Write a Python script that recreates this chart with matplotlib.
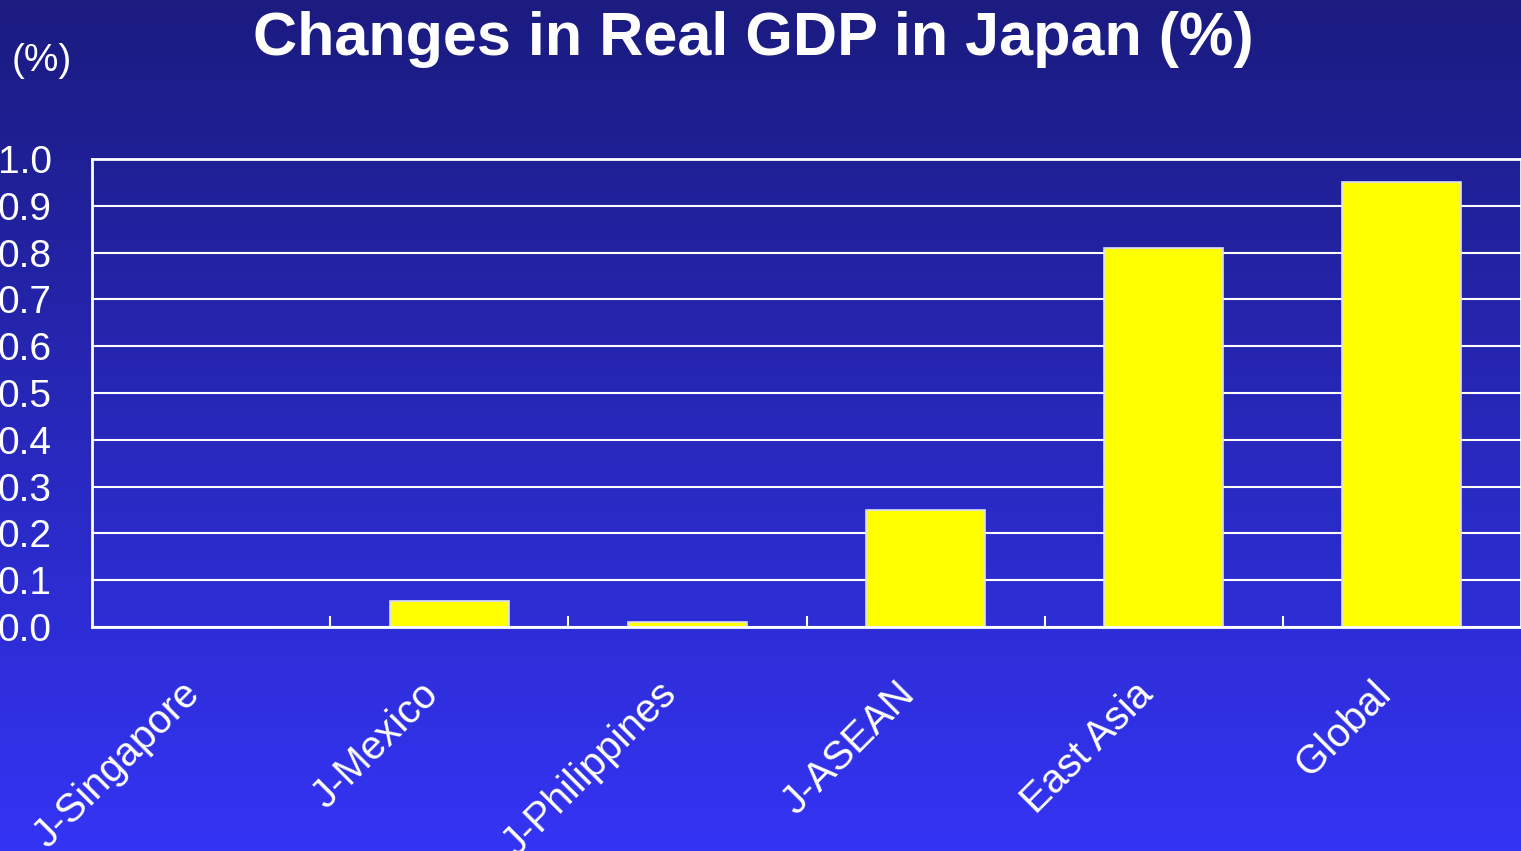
import matplotlib.pyplot as plt
import matplotlib.transforms as mtransforms
import numpy as np

# Données
categories = ["J-Singapore", "J-Mexico", "J-Philippines", "J-ASEAN", "East Asia", "Global"]
gdp_change = [0.0, 0.055, 0.011, 0.25, 0.81, 0.95]
y_ticks = [0.0, 0.1, 0.2, 0.3, 0.4, 0.5, 0.6, 0.7, 0.8, 0.9, 1.0]

plt.rcParams['font.family'] = ['Liberation Sans', 'DejaVu Sans']

fig = plt.figure(figsize=(15.21, 8.51), dpi=100)

# Fond en dégradé (bleu foncé en haut, bleu vif en bas)
bg = fig.add_axes([0, 0, 1, 1], zorder=-10)
top_col = np.array([27, 27, 128]) / 255.0
bot_col = np.array([52, 52, 245]) / 255.0
t = np.linspace(0, 1, 256)[:, None]
grad = top_col[None, :] * (1 - t) + bot_col[None, :] * t
grad = np.repeat(grad[:, None, :], 2, axis=1)
bg.imshow(grad, aspect='auto', extent=[0, 1, 0, 1], origin='upper')
bg.set_axis_off()

ax = fig.add_axes([92 / 1521, 1 - 627 / 851, 1429 / 1521, 468 / 851])
ax.set_facecolor('none')

x = np.arange(len(categories))
ax.bar(x, gdp_change, width=0.5, color='#ffff00', edgecolor='#dcdcff', linewidth=1.2, zorder=3)

ax.set_xlim(-0.5, len(categories) - 0.5)
ax.set_ylim(0, 1.0)
ax.set_yticks(y_ticks)
ax.set_yticklabels([f"{v:.1f}" for v in y_ticks])
ax.yaxis.grid(True, color='white', linewidth=1.5, zorder=1)
ax.set_axisbelow(True)

for s in ax.spines.values():
    s.set_color('white')
    s.set_linewidth(2)
    s.set_zorder(5)

ax.tick_params(axis='y', length=0, pad=29, labelsize=28, colors='white')
ax.set_xticks(x)
ax.set_xticklabels(categories)
ax.tick_params(axis='x', which='major', length=0, pad=44, labelsize=29, colors='white')
ax.set_xticks(x[:-1] + 0.5, minor=True)
ax.tick_params(axis='x', which='minor', direction='in', length=8, width=1.5, color='white')
decal = mtransforms.ScaledTranslation(-0.17, 0, fig.dpi_scale_trans)
for lab in ax.get_xticklabels():
    lab.set_rotation(45)
    lab.set_ha('right')
    lab.set_va('center')
    lab.set_rotation_mode('anchor')
    lab.set_transform(lab.get_transform() + decal)

fig.text(753 / 1521, 1 - 40 / 851, "Changes in Real GDP in Japan (%)", fontsize=44,
         fontweight='bold', color='white', ha='center', va='center')
fig.text(12 / 1521, 1 - 61 / 851, "(%)", fontsize=28, color='white', ha='left', va='center')

fig.savefig("out.png", dpi=100)
